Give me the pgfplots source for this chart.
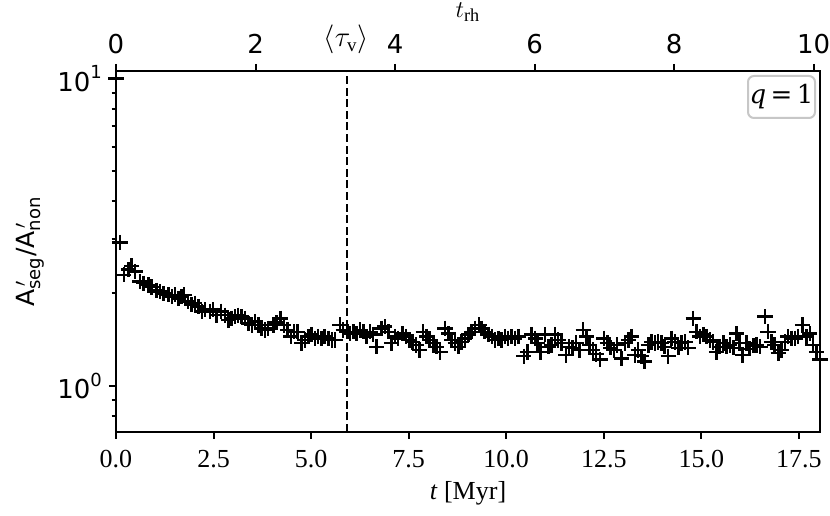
\documentclass[border=0pt]{standalone}
\usepackage{fontspec}
\setmainfont{Liberation Serif}
\newfontfamily\dejavu{DejaVu Sans}
\newfontfamily\dejaserif{DejaVu Serif}
\usepackage{pgfplots}
\pgfplotsset{compat=1.18}
\begin{document}
\begin{tikzpicture}
\useasboundingbox (-58pt,-41.5pt) rectangle (357pt,216pt);
\begin{axis}[
  name=main, at={(0,0)}, anchor=south west,
  scale only axis, width=352pt, height=180.5pt,
  xmin=0, xmax=18.04,
  ymode=log, ymin=0.708, ymax=10.6,
  axis line style={line width=1.1pt},
  tick align=outside, tick style={black, line width=1pt},
  major tick length=3.5pt, minor tick length=2.2pt,
  xtick pos=bottom, ytick pos=left,
  xtick={0,2.5,5,7.5,10,12.5,15,17.5},
  xticklabels={0.0,2.5,5.0,7.5,10.0,12.5,15.0,17.5},
  xticklabel style={font=\fontsize{13}{15}\selectfont, yshift=-2pt},
  ytick={1,10},
  yticklabels={{\dejavu 10\raisebox{0.9ex}{\fontsize{9}{10}\selectfont 0}},{\dejavu 10\raisebox{0.9ex}{\fontsize{9}{10}\selectfont 1}}},
  minor ytick={0.8,0.9,2,3,4,5,6,7,8,9},
  yticklabel style={font=\fontsize{13}{15}\selectfont},
  xlabel={\textit{t} [Myr]},
  xlabel style={font=\fontsize{13}{15}\selectfont, at={(axis description cs:0.5,0)}, anchor=center, yshift=-30.5pt},
  ylabel={\dejavu A$^{\,\prime}_{\mbox{\dejavu\fontsize{9}{10}\selectfont seg}}$/A$^{\,\prime}_{\mbox{\dejavu\fontsize{9}{10}\selectfont non}}$},
  ylabel style={font=\fontsize{12.5}{14}\selectfont, at={(axis description cs:-0.122,0.5)}, anchor=center},
]
\addplot[black, line width=1.1pt, dash pattern=on 4pt off 1.8pt] coordinates {(5.91,0.5) (5.91,20)};
\addplot[only marks, mark=+, mark size=3.8pt, mark options={line width=1.3pt}, black] coordinates {
(0,10.0) (0.10,2.93) (0.20,2.30) (0.32,2.39) (0.40,2.46) (0.49,2.36) (0.61,2.19) (0.70,2.16)
(0.83,2.13) (0.91,2.10) (1.04,2.05) (1.13,2.03) (1.21,2.00) (1.34,1.98) (1.43,1.95) (1.51,1.98)
(1.60,1.93) (1.68,1.95) (1.74,1.98) (1.85,1.88) (1.94,1.84) (2.02,1.86) (2.11,1.81) (2.20,1.75)
(2.28,1.77) (2.41,1.75) (2.49,1.77) (2.58,1.70) (2.69,1.75) (2.79,1.70) (2.88,1.64) (2.96,1.66)
(3.05,1.68) (3.13,1.70) (3.22,1.68) (3.31,1.66) (3.39,1.60) (3.48,1.58) (3.56,1.62) (3.65,1.58)
(3.73,1.54) (3.82,1.52) (3.90,1.54) (4.03,1.58) (4.12,1.61) (4.22,1.66) (4.30,1.58) (4.39,1.52)
(4.48,1.45) (4.56,1.50) (4.65,1.50) (4.76,1.38) (4.84,1.41) (4.93,1.45) (5.01,1.47) (5.10,1.43)
(5.18,1.45) (5.27,1.43) (5.35,1.45) (5.44,1.43) (5.53,1.41) (5.61,1.41) (5.74,1.58) (5.82,1.52)
(5.93,1.50) (6.00,1.48) (6.08,1.50) (6.17,1.48) (6.25,1.52) (6.34,1.50) (6.42,1.45) (6.51,1.50)
(6.59,1.47) (6.68,1.34) (6.81,1.54) (6.89,1.56) (6.98,1.50) (7.06,1.38) (7.15,1.45) (7.23,1.43)
(7.34,1.48) (7.43,1.45) (7.52,1.41) (7.60,1.39) (7.69,1.36) (7.77,1.31) (7.87,1.50) (7.96,1.45)
(8.04,1.41) (8.13,1.38) (8.22,1.34) (8.30,1.29) (8.43,1.54) (8.52,1.48) (8.60,1.41) (8.69,1.38)
(8.77,1.34) (8.86,1.39) (8.94,1.43) (9.03,1.47) (9.11,1.50) (9.20,1.54) (9.30,1.58) (9.37,1.54)
(9.45,1.50) (9.54,1.47) (9.63,1.45) (9.71,1.41) (9.80,1.43) (9.88,1.41) (9.97,1.45) (10.05,1.43)
(10.14,1.45) (10.22,1.43) (10.31,1.45) (10.45,1.25) (10.54,1.29) (10.65,1.47) (10.74,1.43) (10.80,1.38)
(10.88,1.29) (10.99,1.47) (11.08,1.34) (11.16,1.36) (11.25,1.47) (11.33,1.41) (11.42,1.38) (11.53,1.26)
(11.61,1.34) (11.70,1.33) (11.79,1.38) (11.87,1.31) (11.97,1.52) (12.06,1.45) (12.14,1.36) (12.22,1.31)
(12.30,1.27) (12.40,1.22) (12.50,1.43) (12.59,1.38) (12.67,1.33) (12.76,1.31) (12.84,1.36) (12.96,1.23)
(13.04,1.38) (13.13,1.41) (13.21,1.45) (13.30,1.26) (13.38,1.31) (13.47,1.25) (13.55,1.20) (13.64,1.36)
(13.72,1.39) (13.81,1.38) (13.89,1.39) (13.98,1.38) (14.06,1.34) (14.15,1.25) (14.24,1.43) (14.32,1.39)
(14.41,1.33) (14.49,1.38) (14.58,1.39) (14.66,1.33) (14.79,1.66) (14.88,1.50) (14.96,1.45) (15.05,1.47)
(15.13,1.45) (15.22,1.41) (15.30,1.39) (15.39,1.29) (15.47,1.34) (15.56,1.38) (15.64,1.34) (15.73,1.36)
(15.82,1.33) (15.90,1.48) (15.97,1.38) (16.05,1.26) (16.16,1.38) (16.24,1.32) (16.33,1.35) (16.41,1.36)
(16.50,1.34) (16.63,1.68) (16.71,1.50) (16.80,1.39) (16.88,1.36) (16.97,1.28) (17.05,1.31) (17.14,1.39)
(17.22,1.45) (17.31,1.43) (17.40,1.43) (17.48,1.45) (17.59,1.58) (17.69,1.45) (17.78,1.48) (17.86,1.36)
(17.95,1.29) (18.04,1.22)
};
\node[draw=black!22, line width=1pt, rounded corners=3pt, fill=white, anchor=north east,
      minimum width=33.5pt, minimum height=21pt, inner sep=0pt,
      font=\dejaserif\fontsize{13}{15}\selectfont]
  at (rel axis cs:1,1) [xshift=-2pt, yshift=-2pt] {\textit{q}\,=\,1};
\end{axis}
\begin{axis}[
  at={(0,0)}, anchor=south west,
  scale only axis, width=352pt, height=180.5pt,
  xmin=0, xmax=10.09, ymin=0, ymax=1,
  axis x line*=top, hide y axis,
  axis line style={line width=1.1pt, -},
  tick align=outside, tick style={black, line width=1pt},
  major tick length=3.5pt,
  xtick={0,2,4,6,8,10},
  xticklabels={0,2,4,6,8,10},
  xticklabel style={font=\dejavu\fontsize{13}{15}\selectfont, yshift=1.5pt},
  extra x ticks={3.30},
  extra x tick labels={$\langle\tau_{\mathrm{v}}\rangle$},
  extra x tick style={major tick length=0pt, xticklabel style={font=\fontsize{13.5}{15}\selectfont, yshift=3.5pt}},
  xlabel={$t_{\mathrm{rh}}$},
  xlabel style={font=\fontsize{13}{15}\selectfont, at={(axis description cs:0.5,1)}, anchor=center, yshift=29.5pt},
]
\addplot[draw=none] coordinates {(0,0)};
\end{axis}
\end{tikzpicture}
\end{document}
